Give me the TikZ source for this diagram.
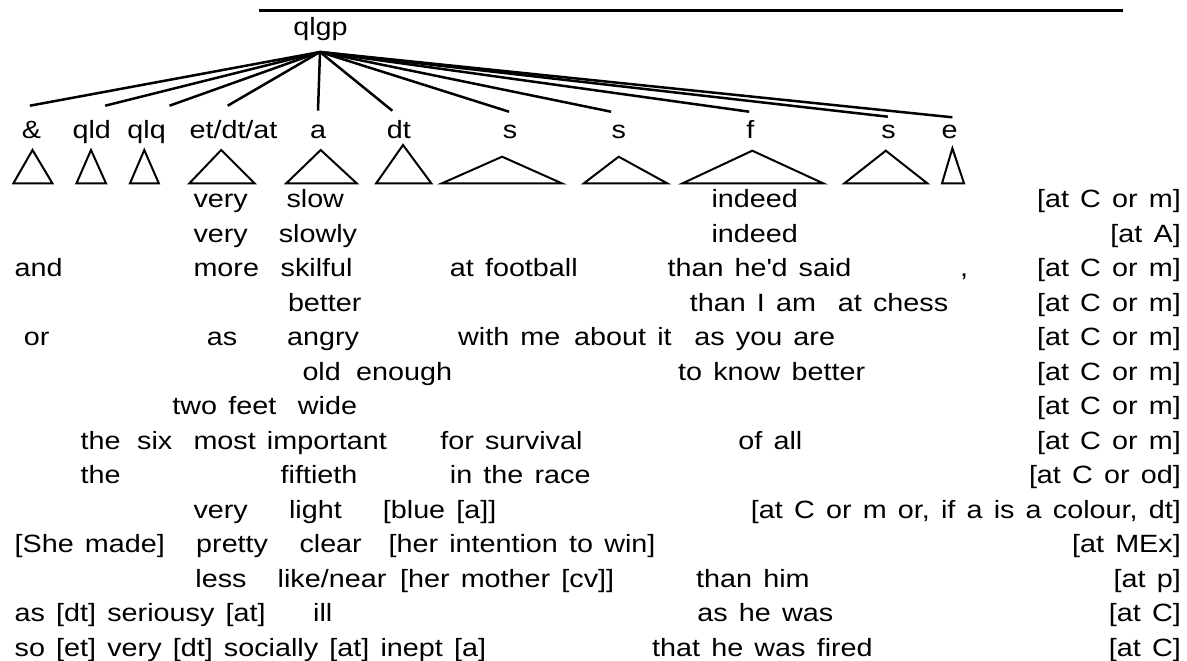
\documentclass[tikz,border=0pt]{standalone}
\usepackage{fontspec}
\setmainfont{Liberation Sans}[FakeStretch=1.15,WordSpace=1.4]
\newcommand\rowfont{\fontsize{25}{30}\selectfont}
\tikzset{
  t/.style={anchor=base west, inner sep=0pt, font=\rowfont},
  tr/.style={anchor=base east, inner sep=0pt, font=\rowfont},
  lab/.style={anchor=base, inner sep=0pt, font=\rowfont},
  branch/.style={line width=2.5pt},
  tri/.style={line width=2pt},
}
\begin{document}
\begin{tikzpicture}[x=1pt,y=-1pt]
\useasboundingbox (0,0) rectangle (1187,661);
% top rule
\coordinate (ruleL) at (259,10.5);
\coordinate (ruleR) at (1123,10.5);
\draw[line width=3pt] (ruleL) -- (ruleR);
% root
\node[lab] (root) at (320.5,35.7) {qlgp};
\coordinate (apex) at (320,52);
% child labels
\node[lab] (c1) at (31.4,138) {\&};
\node[lab] (c2) at (91.8,138) {qld};
\node[lab] (c3) at (146.6,138) {qlq};
\node[lab] (c4) at (233.5,138) {et/dt/at};
\node[lab] (c5) at (318,138) {a};
\node[lab] (c6) at (398.8,138) {dt};
\node[lab] (c7) at (510,138) {s};
\node[lab] (c8) at (618.7,138) {s};
\node[lab] (c9) at (750.3,138) {f};
\node[lab] (c10) at (888.6,138) {s};
\node[lab] (c11) at (949.7,138) {e};
% branch ends
\coordinate (e1) at (29.9,105.7);
\coordinate (e2) at (105.2,105.7);
\coordinate (e3) at (169.5,105.7);
\coordinate (e4) at (227.7,105.7);
\coordinate (e5) at (318,110.7);
\coordinate (e6) at (392.3,110.7);
\coordinate (e7) at (509,111.7);
\coordinate (e8) at (611,111.7);
\coordinate (e9) at (749.2,111.7);
\coordinate (e10) at (887.8,116.7);
\coordinate (e11) at (952.4,117.3);
\foreach \i in {1,...,11} \draw[branch] (apex) -- (e\i);
% triangles
\draw[tri] (32.5,150) -- (52.4,183.3) -- (13.4,183.3) -- cycle;
\draw[tri] (91,150) -- (106,183.3) -- (76.5,183.3) -- cycle;
\draw[tri] (144.3,150) -- (158.8,183.3) -- (130,183.3) -- cycle;
\draw[tri] (221.2,150) -- (254.5,183.3) -- (189.4,183.3) -- cycle;
\draw[tri] (320.7,150) -- (356.7,183.3) -- (286.3,183.3) -- cycle;
\draw[tri] (403,145) -- (431.3,183.3) -- (376.2,183.3) -- cycle;
\draw[tri] (502.1,156.7) -- (561.8,183.3) -- (442,183.3) -- cycle;
\draw[tri] (618.7,156.7) -- (667.1,183.3) -- (583.9,183.3) -- cycle;
\draw[tri] (752.3,150.7) -- (823.1,183.3) -- (682.6,183.3) -- cycle;
\draw[tri] (885.8,150.7) -- (927.3,183.3) -- (844.4,183.3) -- cycle;
\draw[tri] (952.4,148.3) -- (964,183.3) -- (942,183.3) -- cycle;
% row 1
\node[t] (r1a) at (193.3,207.5) {very};
\node[t] (r1b) at (286.3,207.5) {slow};
\node[t] (r1c) at (711.4,207.5) {indeed};
\node[tr] (r1d) at (1181,207.5) {[at C or m]};
% row 2
\node[t] (r2a) at (193.3,242) {very};
\node[t] (r2b) at (278.6,242) {slowly};
\node[t] (r2c) at (711.4,242) {indeed};
\node[tr] (r2d) at (1181,242) {[at A]};
% row 3
\node[t] (r3a) at (14.5,276.5) {and};
\node[t] (r3b) at (193.3,276.5) {more};
\node[t] (r3c) at (280.5,276.5) {skilful};
\node[t] (r3d) at (449.7,276.5) {at football};
\node[t] (r3e) at (667.4,276.5) {than he\textquotesingle d said};
\node[t] (r3f) at (960,276.5) {,};
\node[tr] (r3g) at (1181,276.5) {[at C or m]};
% row 4
\node[t] (r4a) at (287.8,311) {better};
\node[t] (r4b) at (689.6,311) {than I am};
\node[t] (r4c) at (837.7,311) {at chess};
\node[tr] (r4d) at (1181,311) {[at C or m]};
% row 5
\node[t] (r5a) at (23.7,345.5) {or};
\node[t] (r5b) at (206.7,345.5) {as};
\node[t] (r5c) at (287,345.5) {angry};
\node[t] (r5d) at (458,345.5) {with me};
\node[t] (r5e) at (574,345.5) {about it};
\node[t] (r5f) at (694.2,345.5) {as you are};
\node[tr] (r5g) at (1181,345.5) {[at C or m]};
% row 6
\node[t] (r6a) at (302.3,380) {old};
\node[t] (r6b) at (355.9,380) {enough};
\node[t] (r6c) at (678,380) {to know better};
\node[tr] (r6d) at (1181,380) {[at C or m]};
% row 7
\node[t] (r7a) at (172.2,414.5) {two feet};
\node[t] (r7b) at (297.7,414.5) {wide};
\node[tr] (r7c) at (1181,414.5) {[at C or m]};
% row 8
\node[t] (r8a) at (80.4,449) {the};
\node[t] (r8b) at (137,449) {six};
\node[t] (r8c) at (193.3,449) {most important};
\node[t] (r8d) at (440.1,449) {for survival};
\node[t] (r8e) at (738.2,449) {of all};
\node[tr] (r8f) at (1181,449) {[at C or m]};
% row 9
\node[t] (r9a) at (80.4,483.5) {the};
\node[t] (r9b) at (280.5,483.5) {fiftieth};
\node[t] (r9c) at (449.7,483.5) {in the race};
\node[tr] (r9d) at (1181,483.5) {[at C or od]};
% row 10
\node[t] (r10a) at (193.3,518) {very};
\node[t] (r10b) at (288.9,518) {light};
\node[t] (r10c) at (382.7,518) {[blue [a]]};
\node[tr] (r10d) at (1181,518) {[at C or m or, if a is a colour, dt]};
% row 11
\node[t] (r11a) at (14.5,552.5) {[She made]};
\node[t] (r11b) at (196,552.5) {pretty};
\node[t] (r11c) at (299.3,552.5) {clear};
\node[t] (r11d) at (388.4,552.5) {[her intention to win]};
\node[tr] (r11e) at (1181,552.5) {[at MEx]};
% row 12
\node[t] (r12a) at (195.2,587) {less};
\node[t] (r12b) at (277.5,587) {like/near};
\node[t] (r12c) at (399.9,587) {[her mother [cv]]};
\node[t] (r12d) at (696,587) {than him};
\node[tr] (r12e) at (1181,587) {[at p]};
% row 13
\node[t] (r13a) at (14.5,621.5) {as [dt] seriousy [at]};
\node[t] (r13b) at (313,621.5) {ill};
\node[t] (r13c) at (697.2,621.5) {as he was};
\node[tr] (r13d) at (1181,621.5) {[at C]};
% row 14
\node[t] (r14a) at (14.5,656) {so [et] very [dt] socially [at] inept [a]};
\node[t] (r14b) at (652,656) {that he was fired};
\node[tr] (r14c) at (1181,656) {[at C]};
\end{tikzpicture}
\end{document}
